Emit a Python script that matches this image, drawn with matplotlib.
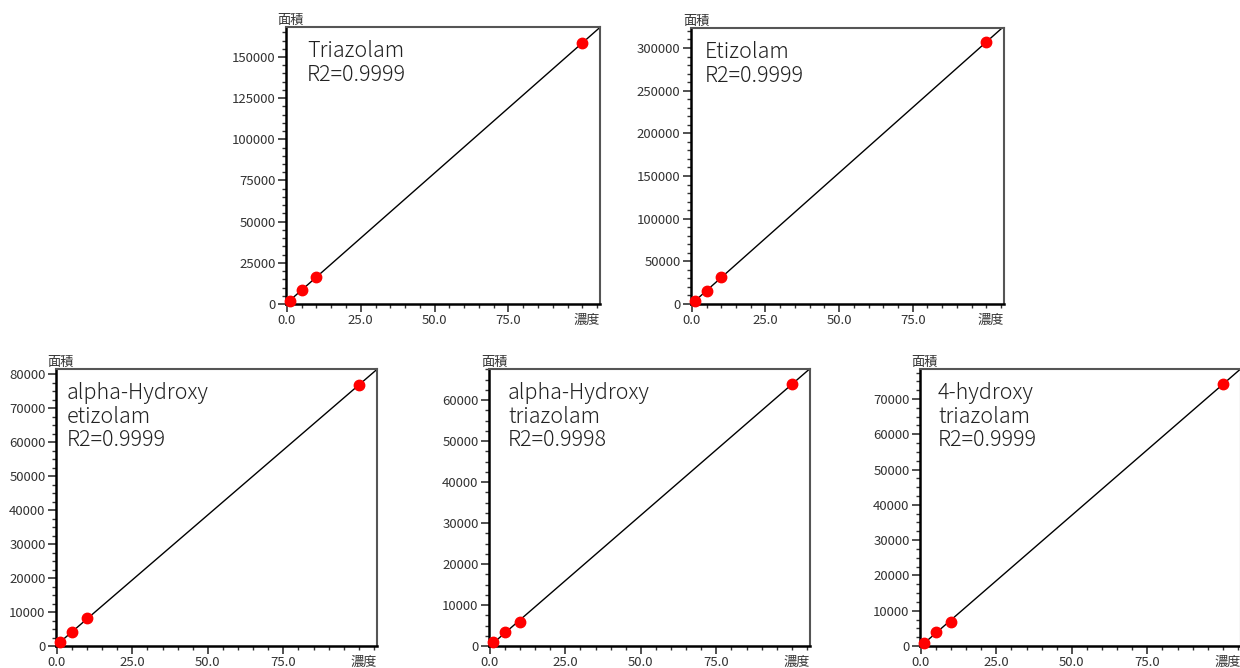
import numpy as np
import matplotlib
matplotlib.use("Agg")
import matplotlib.pyplot as plt
from matplotlib.ticker import MultipleLocator

plt.rcParams['font.family'] = ['Noto Sans CJK JP', 'DejaVu Sans']

# concentration levels (x) and peak areas (y) for each compound
conc = [1, 5, 10, 100]
names = ["Triazolam", "Etizolam", "alpha-Hydroxy\netizolam",
         "alpha-Hydroxy\ntriazolam", "4-hydroxy\ntriazolam"]
r2 = ["0.9999", "0.9999", "0.9999", "0.9998", "0.9999"]
triazolam = [1800, 8800, 16400, 158500]
etizolam = [3500, 15200, 31600, 307000]
ah_etizolam = [1100, 4000, 8200, 76800]
ah_triazolam = [900, 3400, 5900, 63900]
oh_triazolam = [900, 4000, 6900, 74200]
areas = [triazolam, etizolam, ah_etizolam, ah_triazolam, oh_triazolam]
y_top = [168200, 323400, 81500, 67600, 78500]
y_major = [25000, 50000, 10000, 10000, 10000]
y_minor = [5000, 10000, 2500, 2500, 2500]
x_ticks = [0, 25, 50, 75]
x_labels = ["0.0", "25.0", "50.0", "75.0"]

W, H = 1240, 668
fig = plt.figure(figsize=(W / 100, H / 100), dpi=100)

# axes boxes in pixels: left, top, right, bottom
boxes = [(286, 27, 600, 304), (691, 28, 1004, 304),
         (56, 369, 377, 646), (489, 369, 810, 646), (920, 369, 1241, 646)]
text_off = [21, 14, 11, 19, 18]

for i, (l, t, r, b) in enumerate(boxes):
    ax = fig.add_axes([l / W, 1 - b / H, (r - l) / W, (b - t) / H])
    xs = np.array(conc)
    ys = np.array(areas[i])
    k, c = np.polyfit(xs, ys, 1)
    xl = np.array([0, 106])
    ax.plot(xl, k * xl + c, color='black', lw=1.0, zorder=2)
    ax.plot(xs, ys, 'o', color='#ff0000', ms=7.5, zorder=3, clip_on=False)
    ax.set_xlim(-0.3, 106)
    ax.set_ylim(0, y_top[i])

    ax.set_xticks(x_ticks)
    ax.set_xticklabels(x_labels)
    ax.xaxis.set_minor_locator(MultipleLocator(5))
    ax.yaxis.set_major_locator(MultipleLocator(y_major[i]))
    ax.yaxis.set_minor_locator(MultipleLocator(y_minor[i]))
    ax.tick_params(which='major', length=6, width=1.2, color='#333333',
                   labelsize=9.5, labelcolor='#333333', pad=1.5)
    ax.tick_params(which='minor', length=3, width=1.0, color='#333333')

    for s in ['left', 'bottom']:
        ax.spines[s].set_color('black')
        ax.spines[s].set_linewidth(1.8)
    for s in ['top', 'right']:
        ax.spines[s].set_color('#555555')
        ax.spines[s].set_linewidth(1.5)

    ax.text(5 / (r - l), 1.0, "面積", transform=ax.transAxes, ha='center',
            va='bottom', fontsize=9.5, color='#333333')
    ax.text(1.0, -0.035, "濃度", transform=ax.transAxes, ha='right', va='top',
            fontsize=9.5, color='#333333')
    ax.text(text_off[i] / (r - l), 1 - 13 / (b - t), names[i] + "\nR2=" + r2[i],
            transform=ax.transAxes, ha='left', va='top', fontsize=15.5,
            fontweight='light', color='#222222', linespacing=1.1)

fig.savefig("out.png", dpi=100)
